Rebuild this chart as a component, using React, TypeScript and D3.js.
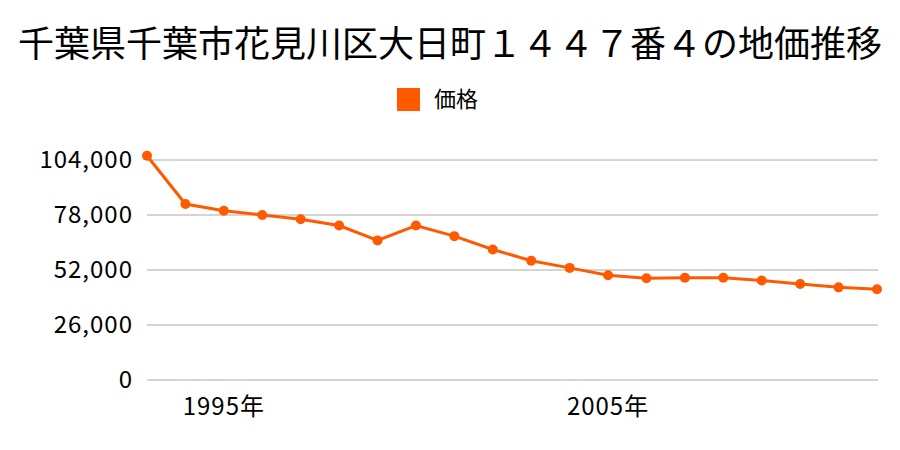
import React from "react";
import * as d3 from "d3";

const years = [1993,1994,1995,1996,1997,1998,1999,2000,2001,2002,2003,2004,2005,2006,2007,2008,2009,2010,2011,2012];
const prices = [106000,83200,80000,78000,76000,73000,66000,73000,68000,61700,56400,53000,49500,48100,48300,48300,47000,45400,43800,42900];
const yTicks = [0,26000,52000,78000,104000];
const xLabels = [1995,2005];
const title = "千葉県千葉市花見川区大日町１４４７番４の地価推移";
const legendLabel = "価格";

const W = 900, H = 450;
const left = 147, right = 878, top = 160, bottom = 380;
const color = "#ff5a00";
const font = "'Noto Sans CJK JP', 'Noto Sans', sans-serif";

export default function App() {
  const x = d3.scaleLinear().domain([years[0], years[years.length - 1]]).range([left, 877]);
  const y = d3.scaleLinear().domain([0, 104000]).range([bottom, top]);
  const line = d3.line<number>().x((_, i) => x(years[i])).y(d => y(d));
  const fmt = d3.format(",");
  return (
    <svg width={W} height={H} style={{ position: "absolute", left: 0, top: 0, background: "#fff" }} fontFamily={font}>
      <text x={450} y={57} textAnchor="middle" fontSize={36} fill="#000">{title}</text>
      <rect x={397} y={88} width={23} height={23} fill={color} />
      <text x={434} y={107} fontSize={22} fill="#000">{legendLabel}</text>
      {yTicks.map(t => (
        <g key={t}>
          <line x1={left} x2={right} y1={y(t)} y2={y(t)} stroke="#aaa" strokeWidth={1} />
          <text x={133} y={y(t) + 8} textAnchor="end" fontSize={24} letterSpacing={1} fill="#000">{fmt(t)}</text>
        </g>
      ))}
      {xLabels.map(yr => (
        <text key={yr} x={x(yr)} y={415} textAnchor="middle" fontSize={24} letterSpacing={1} fill="#000">{yr}年</text>
      ))}
      <path d={line(prices) || ""} fill="none" stroke={color} strokeWidth={3} />
      {prices.map((p, i) => (
        <circle key={i} cx={x(years[i])} cy={y(p)} r={5} fill={color} />
      ))}
    </svg>
  );
}
